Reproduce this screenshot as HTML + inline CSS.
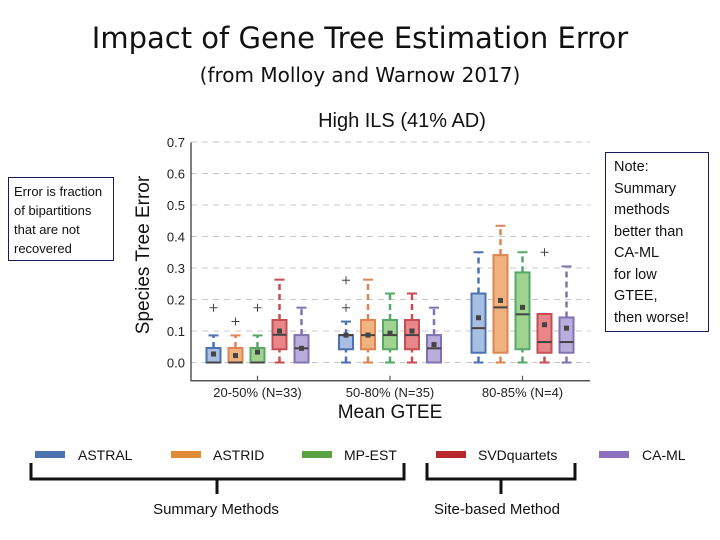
<!DOCTYPE html>
<html><head><meta charset="utf-8">
<style>
body{margin:0;background:#fff;}
#wrap{position:relative;width:720px;height:540px;overflow:hidden;font-family:"Liberation Sans",sans-serif;}
.note{position:absolute;border:1px solid #1a1a5a;background:#fff;font-family:"Liberation Sans",sans-serif;color:#111;}
</style></head>
<body>
<div id="wrap">
<div style="position:absolute;left:0;width:720px;top:21px;text-align:center;font-family:'DejaVu Sans','Liberation Sans',sans-serif;font-size:29px;color:#111;">Impact of Gene Tree Estimation Error</div>
<div style="position:absolute;left:0;width:720px;top:63px;text-align:center;font-family:'DejaVu Sans','Liberation Sans',sans-serif;font-size:20px;color:#111;">(from Molloy and Warnow 2017)</div>
<div class="note" style="left:8px;top:177px;width:106px;height:84px;font-size:13px;line-height:19px;padding:4px 0 0 5px;box-sizing:border-box;">Error is fraction of bipartitions that are not recovered</div>
<div class="note" style="left:605px;top:152px;width:104px;height:180px;font-size:14.5px;line-height:21.5px;padding:4px 0 0 8px;box-sizing:border-box;">Note:<br>Summary<br>methods<br>better than<br>CA-ML<br>for low<br>GTEE,<br>then worse!</div>
<svg id="chart" width="720" height="540" style="position:absolute;left:0;top:0"></svg>
</div>
<script>
const categories=["20-50% (N=33)","50-80% (N=35)","80-85% (N=4)"];
const methods=["ASTRAL","ASTRID","MP-EST","SVDquartets","CA-ML"];
const yTicks=[0.0,0.1,0.2,0.3,0.4,0.5,0.6,0.7];
// per category, per method: [whiskerLow, q1, median, q3, whiskerHigh, mean]
const statsG1=[[0,0,0,0.046,0.086,0.027],[0,0,0,0.046,0.086,0.022],[0,0,0,0.046,0.086,0.033],[0,0.042,0.088,0.135,0.263,0.1],[0,0,0.045,0.087,0.174,0.045]];
const statsG2=[[0,0.042,0.087,0.087,0.13,0.087],[0,0.042,0.087,0.135,0.263,0.087],[0,0.042,0.087,0.135,0.219,0.093],[0,0.042,0.087,0.135,0.219,0.1],[0,0,0.045,0.087,0.174,0.057]];
const statsG3=[[0,0.031,0.109,0.219,0.35,0.142],[0,0.031,0.175,0.341,0.434,0.197],[0,0.042,0.153,0.286,0.35,0.175],[0,0.031,0.065,0.154,0.154,0.12],[0,0.031,0.065,0.143,0.305,0.109]];
const outliersG1=[[0.174],[0.13],[0.174],[],[]];
const outliersG2=[[0.174,0.261],[],[],[],[]];
const outliersG3=[[],[],[],[0.35],[]];
const allStats=[statsG1,statsG2,statsG3];
const allOut=[outliersG1,outliersG2,outliersG3];
const edge=["#4c72b0","#dd8452","#55a868","#c44e52","#8172b2"];
const fill=["#a8bfe3","#f0b27f","#9fd38f","#e9868a","#b9aedb"];
const legendColor=["#4c72b0","#e08a35","#5aa342","#b8282e","#8f6fc0"];

const svg=document.getElementById('chart');
const NS="http://www.w3.org/2000/svg";
function mk(t,a,p){const e=document.createElementNS(NS,t);for(const k in a)e.setAttribute(k,a[k]);(p||svg).appendChild(e);return e;}
const X0=191,X1=590,Y0=142.5,Ybase=362.5,Yax=380.7;
function y(v){return Ybase-v*315;}
function xc(g){return 257.5+g*132.5;}
function xm(g,m){return xc(g)+(m-2)*22;}

const title=mk('text',{x:402,y:127,'text-anchor':'middle','font-size':20,fill:'#111'});
title.textContent="High ILS (41% AD)";



yTicks.forEach(v=>{
  const l=mk('line',{x1:X0,x2:X1,y1:y(v),y2:y(v),stroke:'#c8c8c8','stroke-dasharray':'6,5','stroke-width':1});
  
  
  const t=mk('text',{x:X0-6,y:y(v)+5,'text-anchor':'end','font-size':13,fill:'#222'});
  t.textContent=v.toFixed(1);
  
  
});
const ax=mk('path',{d:`M${X0} ${Y0}V${Yax}H${X1}`,stroke:'#555',fill:'none','stroke-width':1.5});


const yt=mk('text',{x:0,y:0,transform:'translate(149,255) rotate(-90)','text-anchor':'middle','font-size':19,fill:'#111'});
yt.textContent="Species Tree Error";


const xt=mk('text',{x:390,y:418,'text-anchor':'middle','font-size':19,fill:'#111'});
xt.textContent="Mean GTEE";



categories.forEach((c,g)=>{
  const tk=mk('line',{x1:xc(g),x2:xc(g),y1:Yax-5,y2:Yax,stroke:'#555','stroke-width':1.2});
  
  
  const t=mk('text',{x:xc(g),y:397,'text-anchor':'middle','font-size':13,fill:'#222'});
  t.textContent=c;
  
  
  methods.forEach((m,i)=>{
    const s=allStats[g][i],x=xm(g,i),w=14;
    const grp=mk('g',{});
    
    
    mk('line',{x1:x,x2:x,y1:y(s[0]),y2:y(s[1]),stroke:edge[i],'stroke-width':2.5,'stroke-dasharray':'6,4'},grp);
    mk('line',{x1:x,x2:x,y1:y(s[3]),y2:y(s[4]),stroke:edge[i],'stroke-width':2.5,'stroke-dasharray':'6,4'},grp);
    mk('line',{x1:x-5,x2:x+5,y1:y(s[0]),y2:y(s[0]),stroke:edge[i],'stroke-width':2},grp);
    mk('line',{x1:x-5,x2:x+5,y1:y(s[4]),y2:y(s[4]),stroke:edge[i],'stroke-width':2},grp);
    mk('rect',{x:x-w/2,y:y(s[3]),width:w,height:Math.max(y(s[1])-y(s[3]),0.5),fill:fill[i],stroke:edge[i],'stroke-width':2},grp);
    mk('line',{x1:x-w/2,x2:x+w/2,y1:y(s[2]),y2:y(s[2]),stroke:'#444','stroke-width':2},grp);
    mk('rect',{x:x-2.5,y:y(s[5])-2.5,width:5,height:5,fill:'#444'},grp);
    allOut[g][i].forEach(o=>{
      mk('path',{d:`M${x-4} ${y(o)}H${x+4}M${x} ${y(o)-4}V${y(o)+4}`,stroke:'#444','stroke-width':1},grp);
    });
  });
});

const legX=[35,171,302,436,599],legTX=[78,213,344,478,642];
methods.forEach((m,i)=>{
  const r=mk('rect',{x:legX[i],y:451,width:30,height:7,fill:legendColor[i]});
  
  
  const t=mk('text',{x:legTX[i],y:460,'font-size':14,fill:'#111'});
  t.textContent=m;
  
  
});
const b1=mk('path',{d:'M31 463V479H404V463M217 479V494',stroke:'#111','stroke-width':3,fill:'none'});


const b2=mk('path',{d:'M427 463V479H575V463M501 479V494',stroke:'#111','stroke-width':3,fill:'none'});


const l1=mk('text',{x:216,y:514,'text-anchor':'middle','font-size':15,fill:'#111','font-family':'Liberation Sans, sans-serif'});
l1.textContent="Summary Methods";


const l2=mk('text',{x:497,y:514,'text-anchor':'middle','font-size':15,fill:'#111','font-family':'Liberation Sans, sans-serif'});
l2.textContent="Site-based Method";


</script>
</body></html>
